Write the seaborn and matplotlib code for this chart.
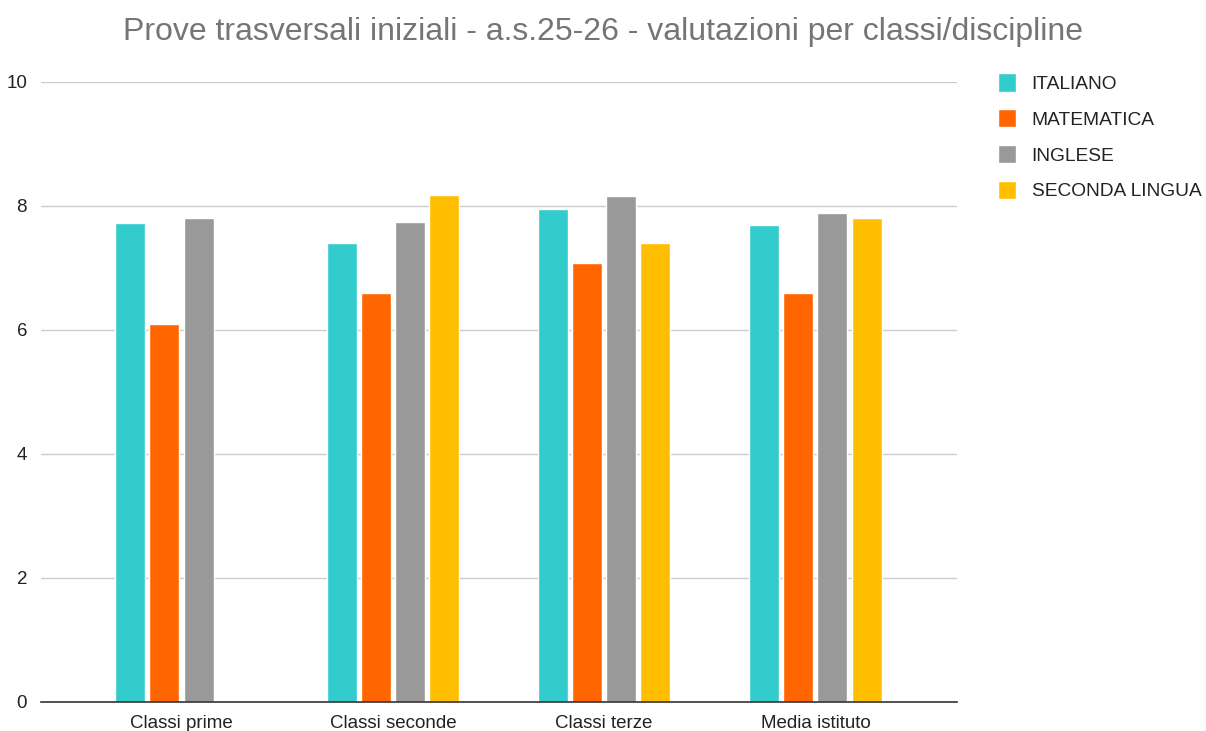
import pandas as pd
import numpy as np
import matplotlib
matplotlib.use("Agg")
import matplotlib.pyplot as plt
import seaborn as sns

# data
categories = ["Classi prime", "Classi seconde", "Classi terze", "Media istituto"]
subjects = ["ITALIANO", "MATEMATICA", "INGLESE", "SECONDA LINGUA"]
italiano = [7.72, 7.41, 7.95, 7.69]
matematica = [6.10, 6.59, 7.08, 6.59]
inglese = [7.80, 7.74, 8.16, 7.89]
seconda_lingua = [np.nan, 8.18, 7.41, 7.80]

colors = ["#33CCCC", "#FF6600", "#999999", "#FFBF00"]

rows = []
for subj, vals in zip(subjects, [italiano, matematica, inglese, seconda_lingua]):
    for cat, v in zip(categories, vals):
        rows.append({"categoria": cat, "materia": subj, "voto": v})
df = pd.DataFrame(rows)

sns.set_style("white")
plt.rcParams['font.family'] = ['Liberation Sans', 'DejaVu Sans']

fig = plt.figure(figsize=(12.06, 7.31), dpi=100)
ax = fig.add_axes([41 / 1206, 1 - 702 / 731, (957 - 41) / 1206, (702 - 82) / 731])

sns.barplot(
    data=df, x="categoria", y="voto", hue="materia",
    order=categories, hue_order=subjects, palette=colors,
    width=0.645, gap=0.12, saturation=1, ax=ax, legend=True
)

ax.set_ylim(0, 10)
ax.set_xlim(-0.665, 3.67)
ax.set_yticks([0, 2, 4, 6, 8, 10])
ax.yaxis.grid(True, color="#cccccc", linewidth=1)
ax.set_axisbelow(True)
for s in ["top", "right", "left"]:
    ax.spines[s].set_visible(False)
ax.spines["bottom"].set_color("#333333")
ax.spines["bottom"].set_linewidth(1.2)
ax.tick_params(axis="both", length=0, labelsize=13.5, colors="#222222")
ax.tick_params(axis="x", pad=9)
ax.tick_params(axis="y", pad=10)
ax.set_xlabel("")
ax.set_ylabel("")

fig.suptitle("Prove trasversali iniziali - a.s.25-26 - valutazioni per classi/discipline",
             x=0.5, y=0.977, fontsize=23, color="#757575")

handles, labels = ax.get_legend_handles_labels()
ax.legend(handles, labels, loc="upper left", bbox_to_anchor=(981 / 1206, 1 - 56 / 731),
          bbox_transform=fig.transFigure, frameon=False, fontsize=13.8,
          handlelength=0.94, handleheight=1.1, handletextpad=0.8, labelspacing=0.84,
          labelcolor="#222222")

fig.savefig("out.png", dpi=100)
